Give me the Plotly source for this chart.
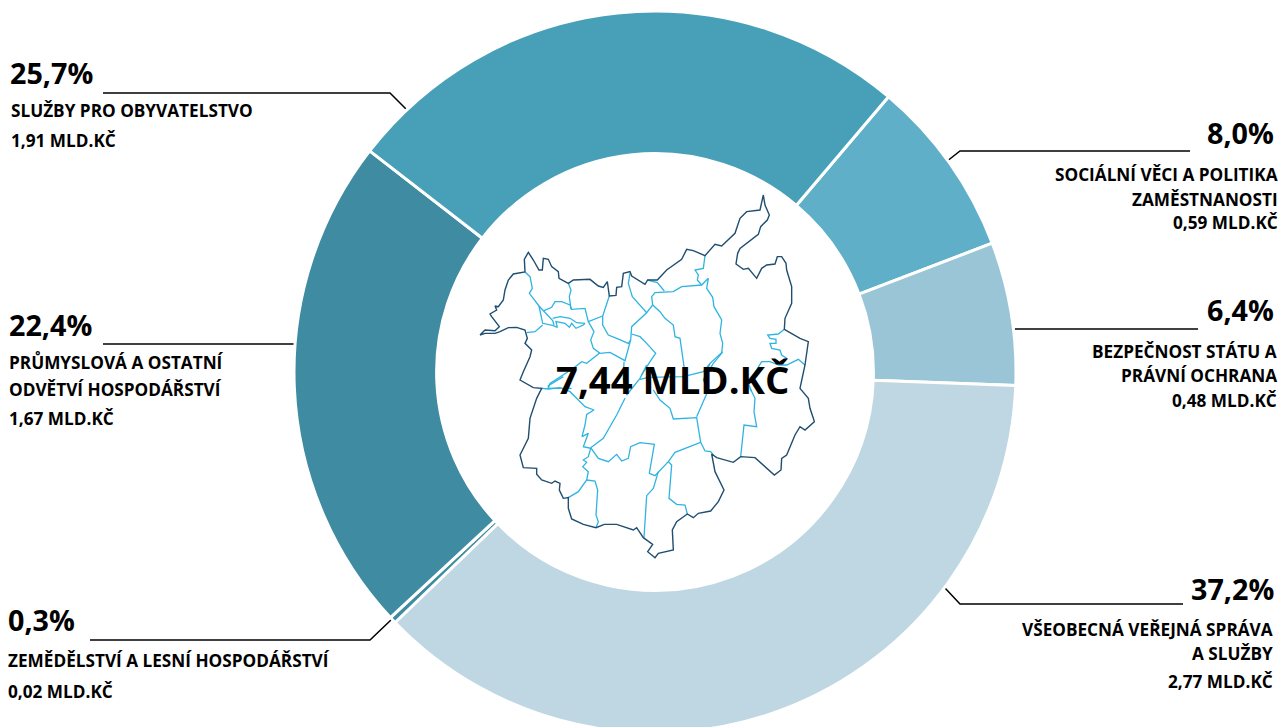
import plotly.graph_objects as go

# ---- data ----
shares = [8.0, 6.4, 37.2, 0.3, 22.4, 25.7]
amounts = ["0,59", "0,48", "2,77", "0,02", "1,67", "1,91"]
sectors = ["SOCIÁLNÍ VĚCI A POLITIKA ZAMĚSTNANOSTI", "BEZPEČNOST STÁTU A PRÁVNÍ OCHRANA",
           "VŠEOBECNÁ VEŘEJNÁ SPRÁVA A SLUŽBY", "ZEMĚDĚLSTVÍ A LESNÍ HOSPODÁŘSTVÍ",
           "PRŮMYSLOVÁ A OSTATNÍ ODVĚTVÍ HOSPODÁŘSTVÍ", "SLUŽBY PRO OBYVATELSTVO"]
slice_colors = ["#60afc9", "#9ac5d6", "#bed7e2", "#3e8ba2", "#3e8ba2", "#47a0b8"]
total_label = "7,44 MLD.KČ"

# label text rows: (text, anchor side, x, y, kind)
label_rows = [
    ("25,7%", "left", 8, 72.5, "big"), ("SLUŽBY PRO OBYVATELSTVO", "left", 9, 110, "small"), ("1,91 MLD.KČ", "left", 9, 140, "small"),
    ("22,4%", "left", 7, 324.5, "big"), ("PRŮMYSLOVÁ A OSTATNÍ", "left", 7, 362, "small"), ("ODVĚTVÍ HOSPODÁŘSTVÍ", "left", 7, 389, "small"), ("1,67 MLD.KČ", "left", 7, 418, "small"),
    ("0,3%", "left", 6, 619.5, "big"), ("ZEMĚDĚLSTVÍ A LESNÍ HOSPODÁŘSTVÍ", "left", 6, 660, "small"), ("0,02 MLD.KČ", "left", 6, 691, "small"),
    ("8,0%", "right", 1276, 132.5, "big"), ("SOCIÁLNÍ VĚCI A POLITIKA", "right", 1280, 174, "small"), ("ZAMĚSTNANOSTI", "right", 1280, 199, "small"), ("0,59 MLD.KČ", "right", 1280, 222, "small"),
    ("6,4%", "right", 1276, 309.5, "big"), ("BEZPEČNOST STÁTU A", "right", 1279, 351, "small"), ("PRÁVNÍ OCHRANA", "right", 1279, 375, "small"), ("0,48 MLD.KČ", "right", 1279, 400, "small"),
    ("37,2%", "right", 1276, 588.5, "big"), ("VŠEOBECNÁ VEŘEJNÁ SPRÁVA", "right", 1275, 629, "small"), ("A SLUŽBY", "right", 1275, 653, "small"), ("2,77 MLD.KČ", "right", 1275, 681, "small"),
]
leader_lines = [
    [(103, 93), (390, 93), (407, 110)],
    [(103, 344), (295, 344)],
    [(90, 640), (370, 640), (392, 619)],
    [(1190, 151), (960, 151), (946, 162)],
    [(1198, 329), (1010, 329)],
    [(1183, 604), (960, 604), (945, 588)],
]

# map of the city, traced in three sheets; each sheet has its own origin
north = (470, 190)
south = (470, 375)
mid = (500, 320)

outline = [
    (north, [(30,435),(45,420),(75,422),(88,410),(65,380),(60,372),(80,360),(75,348),(85,350),(100,330),(105,300),(115,270),(130,252),(165,246),(163,208),(175,187),(190,210),(207,240),(217,240),(220,205),(235,208),(245,230),(265,245),(267,265),(295,280),(310,270),(360,268),(385,288),(400,292),(412,275),(418,318),(438,316),(440,292),(455,290),(460,250),(480,245),(485,258),(505,270),(525,283),(533,270),(562,270),(590,240),(635,208),(650,178),(670,182),(705,197),(735,163),(755,168),(795,130),(810,85),(830,65),(870,60),(880,15),(885,45),(898,75),(892,90),(872,110),(865,133),(810,175),(803,190),(798,222),(820,238),(835,235),(860,265),(875,235),(890,225),(915,222),(922,200),(935,200),(948,220),(950,240),(965,290),(965,340),(945,385),(943,418),(990,445),(1015,455),(1005,525)]),
    (south, [(990,40),(1015,70),(1020,100),(1030,130),(1033,140),(1005,165),(990,155),(975,180),(960,215),(950,240),(935,250),(933,285),(913,300),(855,248),(812,245),(790,262),(740,248),(725,237),(735,290),(745,310),(762,345),(745,380),(722,408),(685,415),(670,428),(652,417),(620,440),(607,465),(610,525),(565,535),(555,548),(533,530),(548,508),(520,488),(500,458),(490,465),(440,448),(403,448),(378,458),(340,448),(305,432),(295,400),(295,368),(280,370),(268,345),(270,325),(255,318),(245,325),(215,315),(200,298),(200,280),(160,278),(150,240),(175,190),(180,130),(200,70),(215,40),(190,38),(150,15)]),
    (north, [(160,545),(180,500),(185,480),(165,460),(172,445),(165,420),(140,412),(115,413),(90,425),(75,430),(45,430),(30,435)]),
]

districts = [
    (north, [(165,246),(180,260),(187,295),(178,310),(207,348),(248,392),(252,405)]),
    (north, [(207,348),(218,400),(250,407),(262,412),(258,395),(285,400),(298,412),(305,400),(318,415),(340,405),(345,400),(320,398),(300,385),(270,380),(248,385)]),
    (north, [(222,362),(245,352),(255,335),(275,335),(300,345),(305,358),(345,355),(355,395),(398,378)]),
    (north, [(295,280),(303,300),(298,320),(303,358)]),
    (north, [(418,318),(398,378),(398,405),(415,435),(440,445),(475,460),(482,450)]),
    (north, [(355,395),(372,425),(362,450),(370,475),(390,490),(420,487),(465,512),(478,470),(482,450),(485,410),(530,368)]),
    (north, [(480,250),(475,280),(487,320),(530,368),(548,345),(545,320),(555,308),(610,305),(635,290),(695,285),(715,265),(710,295),(728,322),(732,350),(755,390),(750,430),(758,460),(755,490),(730,520),(715,545)]),
    (north, [(533,270),(562,278),(583,303)]),
    (north, [(705,197),(700,235),(675,240),(685,255),(682,270),(695,285)]),
    (north, [(548,345),(570,365),(585,385),(610,405),(615,440),(630,445),(640,515),(645,550)]),
    (north, [(485,432),(510,440),(530,460),(557,490),(540,515),(515,555)]),
    (north, [(170,428),(195,425),(218,405)]),
    (north, [(943,418),(925,432),(893,435),(900,445),(918,448),(918,460),(900,460),(905,475),(930,480),(935,495),(950,505),(925,525),(950,525),(985,508),(1005,525)]),
    (mid, [(300,98),(280,115),(260,130),(245,125),(220,145),(150,190),(145,205),(215,205)]),
    (mid, [(372,125),(370,175),(380,225)]),
    (mid, [(440,135),(420,175),(380,225)]),
    (mid, [(420,178),(445,172),(550,170),(610,155),(630,130),(668,95)]),
    (mid, [(630,130),(610,180),(625,210),(590,290)]),
    (mid, [(755,215),(745,190),(785,125),(810,125),(835,135)]),
    (south, [(215,40),(235,42),(270,38),(300,50),(345,95),(372,105),(350,118),(345,150),(336,185),(355,175),(340,215),(362,220),(355,245),(340,255),(350,262),(338,275),(355,290),(350,315),(325,350),(295,368)]),
    (south, [(350,315),(375,318),(383,345),(378,420),(385,440),(378,458)]),
    (south, [(235,42),(235,32),(280,5)]),
    (south, [(362,218),(385,250),(415,260),(440,238),(455,258),(475,250),(482,215),(510,203),(553,208),(538,295),(555,302),(570,285),(595,260),(615,232),(692,202),(680,128),(610,132),(600,100),(570,75),(550,45)]),
    (south, [(362,218),(400,190),(440,120),(465,70)]),
    (south, [(692,202),(705,228),(722,230),(730,240)]),
    (south, [(840,40),(855,70),(852,110),(860,155),(822,150),(812,245)]),
    (south, [(595,260),(605,270),(597,370),(620,388),(645,390),(652,417)]),
    (south, [(565,290),(550,340),(530,362),(522,488)]),
]

FONT = "Open Sans"
BIG, SMALL, CENTER = 28.7, 17.2, 38.3
PAGE_W, PAGE_H = 1281, 745


def sheet_xy(parts):
    xs, ys = [], []
    for origin, pts in parts:
        xs += [origin[0] + p[0] / 3 for p in pts]
        ys += [origin[1] + p[1] / 3 for p in pts]
    return xs, ys


fig = go.Figure()

for origin_pts in districts:
    x, y = sheet_xy([origin_pts])
    fig.add_trace(go.Scatter(x=x, y=y, mode="lines", hoverinfo="skip", showlegend=False,
                             line=dict(color="#2fb4e2", width=1.3)))
x, y = sheet_xy(outline)
fig.add_trace(go.Scatter(x=x, y=y, mode="lines", hoverinfo="skip", showlegend=False,
                         line=dict(color="#1f4e70", width=1.4)))

for seg in leader_lines:
    fig.add_trace(go.Scatter(x=[p[0] for p in seg], y=[p[1] for p in seg], mode="lines",
                             hoverinfo="skip", showlegend=False,
                             line=dict(color="#000000", width=1.5)))

fig.add_trace(go.Pie(values=shares, labels=sectors, customdata=amounts, sort=False, direction="clockwise",
                     rotation=40.3, hole=0.605, textinfo="none", showlegend=False,
                     marker=dict(colors=slice_colors, line=dict(color="#ffffff", width=3)),
                     domain=dict(x=[294 / PAGE_W, 1016 / PAGE_W],
                                 y=[(PAGE_H - 733) / PAGE_H, (PAGE_H - 11) / PAGE_H])))

annotations = [dict(x=x_, y=y_, xref="x", yref="y", text=t, showarrow=False, xanchor=side, yanchor="middle",
                    font=dict(family=FONT, color="#000000", weight=700, size=BIG if kind == "big" else SMALL))
               for t, side, x_, y_, kind in label_rows]
annotations.append(dict(x=672.5, y=379, xref="x", yref="y", text=total_label, showarrow=False,
                        font=dict(family=FONT, color="#000000", weight=700, size=CENTER)))

fig.update_layout(
    width=PAGE_W, height=PAGE_H, margin=dict(l=0, r=0, t=0, b=0),
    paper_bgcolor="#ffffff", plot_bgcolor="rgba(0,0,0,0)",
    xaxis=dict(range=[0, PAGE_W], visible=False, fixedrange=True),
    yaxis=dict(range=[PAGE_H, 0], visible=False, fixedrange=True),
    annotations=annotations, showlegend=False,
)

fig.write_html("out.html", config=dict(displayModeBar=False),
               post_script="document.body.style.margin='0';document.documentElement.style.overflow='hidden';window.dispatchEvent(new Event('resize'));")
